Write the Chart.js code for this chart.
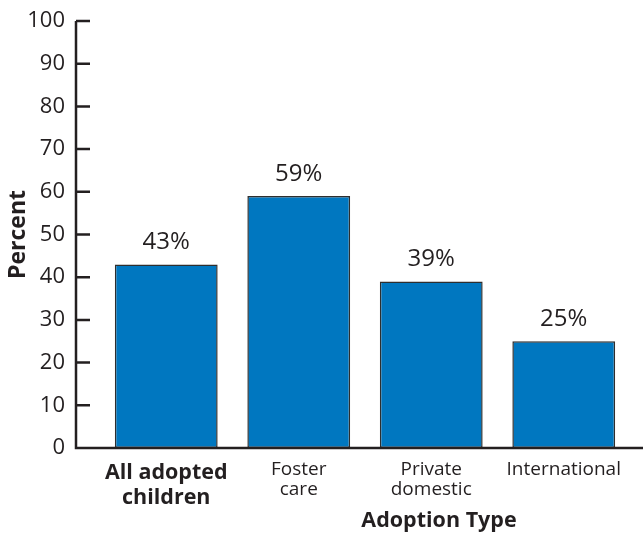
<!DOCTYPE html>
<html>
<head>
<meta charset="utf-8">
<script src="https://cdn.jsdelivr.net/npm/chart.js@4.4.1/dist/chart.umd.min.js"></script>
<style>
  html, body { margin: 0; padding: 0; background: #fff; }
  #wrap { width: 643px; height: 533px; position: relative; }
</style>
</head>
<body>
<div id="wrap"><canvas id="chart"></canvas></div>
<script>
const categories = [['All adopted', 'children'], ['Foster', 'care'], ['Private', 'domestic'], ['International']];
const percents = [43, 59, 39, 25];
const yTicks = [0, 10, 20, 30, 40, 50, 60, 70, 80, 90, 100];
const xTitle = 'Adoption Type';

const ink = '#231f20';
const fontFam = '"Open Sans", "DejaVu Sans", sans-serif';

// axis lines sit left of the first category, so drawn by hand from the scales
const axisLines = {
  id: 'axisLines',
  afterDraw(chart) {
    const c = chart.ctx;
    const ys = chart.scales.y;
    const ax = chart.chartArea.left - 24;
    c.save();
    c.strokeStyle = ink;
    c.lineWidth = 2.5;
    c.beginPath();
    c.moveTo(ax, ys.getPixelForValue(100));
    c.lineTo(ax, ys.getPixelForValue(0));
    c.lineTo(chart.width, ys.getPixelForValue(0));
    yTicks.forEach(v => {
      const py = ys.getPixelForValue(v);
      c.moveTo(ax, py);
      c.lineTo(ax + 14, py);
    });
    c.stroke();

    // x title sits right of centre in the original
    c.fillStyle = ink;
    c.font = 'bold 21.5px ' + fontFam;
    c.textAlign = 'center';
    c.textBaseline = 'middle';
    c.fillText(xTitle, chart.chartArea.left + 339, 521);
    c.restore();
  }
};

const barLabels = {
  id: 'barLabels',
  afterDatasetsDraw(chart) {
    const c = chart.ctx;
    const meta = chart.getDatasetMeta(0);
    c.save();
    c.fillStyle = ink;
    c.font = '24px ' + fontFam;
    c.textAlign = 'center';
    c.textBaseline = 'middle';
    meta.data.forEach((bar, i) => {
      c.fillText(percents[i] + '%', bar.x, bar.y - 22);
    });
    c.restore();
  }
};

new Chart(document.getElementById('chart'), {
  type: 'bar',
  data: {
    labels: categories,
    datasets: [{
      data: percents,
      backgroundColor: '#0077c0',
      borderColor: '#2e2e2e',
      borderWidth: 1.5,
      borderSkipped: false,
      barPercentage: 0.776,
      categoryPercentage: 1
    }]
  },
  options: {
    responsive: true,
    maintainAspectRatio: false,
    animation: false,
    layout: { padding: { top: 21, right: 13, left: 0, bottom: 0 } },
    plugins: { legend: { display: false }, tooltip: { enabled: false } },
    scales: {
      x: {
        grid: { display: false },
        border: { display: false },
        ticks: {
          color: ink,
          padding: 4,
          maxRotation: 0,
          autoSkip: false,
          font: (ctx) => ctx.index === 0
            ? { family: fontFam, size: 21.5, weight: 'bold', lineHeight: 1.16 }
            : { family: fontFam, size: 19, lineHeight: 1.05 }
        },
        afterFit(scale) { scale.height = 85; }
      },
      y: {
        min: 0,
        max: 100,
        grid: { display: false },
        border: { display: false },
        afterBuildTicks(scale) { scale.ticks = yTicks.map(v => ({ value: v })); },
        ticks: {
          color: ink,
          padding: 27,
          font: { family: fontFam, size: 22 }
        },
        title: {
          display: true,
          text: 'Percent',
          color: ink,
          font: { family: fontFam, size: 23, weight: 'bold', lineHeight: 1.2 },
          padding: { top: 5, bottom: 0 }
        },
        afterFit(scale) {
          scale.width = 100;
          scale.paddingTop = 0;
          scale.paddingBottom = 0;
        }
      }
    }
  },
  plugins: [axisLines, barLabels]
});
</script>
</body>
</html>
